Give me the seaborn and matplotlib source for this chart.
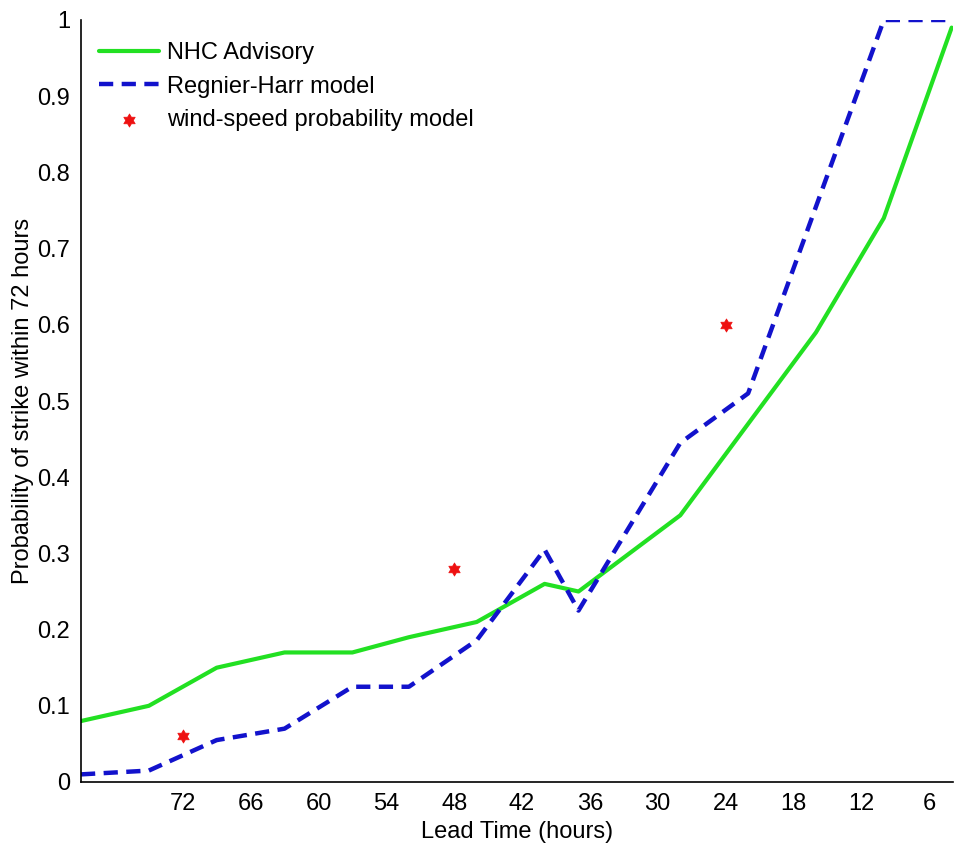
import matplotlib
matplotlib.use("Agg")
import matplotlib.pyplot as plt
import seaborn as sns
import pandas as pd
import numpy as np

# Data
lead_time = [81, 75, 69, 63, 57, 52, 46, 40, 37, 28, 22, 16, 10, 4]
nhc_advisory = [0.08, 0.10, 0.15, 0.17, 0.17, 0.19, 0.21, 0.26, 0.25, 0.35, 0.47, 0.59, 0.74, 0.99]
regnier_harr = [0.01, 0.015, 0.055, 0.07, 0.125, 0.125, 0.186, 0.305, 0.225, 0.445, 0.51, 0.755, 1.0, 1.0]
ws_lead = [72, 48, 24]
ws_prob = [0.06, 0.28, 0.60]
x_ticks = [72, 66, 60, 54, 48, 42, 36, 30, 24, 18, 12, 6]
y_ticks = [0, 0.1, 0.2, 0.3, 0.4, 0.5, 0.6, 0.7, 0.8, 0.9, 1.0]
y_tick_labels = ["0", "0.1", "0.2", "0.3", "0.4", "0.5", "0.6", "0.7", "0.8", "0.9", "1"]

sns.set_style("white")
plt.rcParams['font.family'] = ['Liberation Sans', 'DejaVu Sans']
plt.rcParams['text.color'] = 'black'
plt.rcParams['axes.labelcolor'] = 'black'
plt.rcParams['xtick.color'] = 'black'
plt.rcParams['ytick.color'] = 'black'

fig = plt.figure(figsize=(9.56, 8.56), dpi=100)
ax = fig.add_axes([81/956, 1 - 782/856, (953 - 81)/956, (782 - 20)/856])

df = pd.DataFrame({"lead": lead_time, "nhc": nhc_advisory, "rh": regnier_harr})
sns.lineplot(data=df, x="lead", y="nhc", ax=ax, color="#22e022", lw=3.0,
             label="NHC Advisory", sort=False)
sns.lineplot(data=df, x="lead", y="rh", ax=ax, color="#1212cc", lw=3.2,
             label="Regnier-Harr model", sort=False, dashes=False)
ax.lines[1].set_dashes([3.2, 1.9])

hexagram = matplotlib.path.Path.unit_regular_star(6, 0.58)
sns.scatterplot(x=ws_lead, y=ws_prob, ax=ax, marker=hexagram, s=90, color="#ee1111",
                edgecolor="#ee1111", linewidth=0.5, label="wind-speed probability model", zorder=5)

ax.set_xlim(81, 3.88)
ax.set_ylim(0, 1)
ax.set_xticks(x_ticks)
ax.set_xticklabels([str(t) for t in x_ticks])
ax.set_yticks(y_ticks)
ax.set_yticklabels(y_tick_labels)
ax.tick_params(direction="in", length=10, width=1, labelsize=17, pad=8, colors="black")
for s in ["top", "right"]:
    ax.spines[s].set_visible(False)
for s in ["left", "bottom"]:
    ax.spines[s].set_color("black")
    ax.spines[s].set_linewidth(1.2)

ax.set_xlabel("Lead Time (hours)", fontsize=17, labelpad=4, color="black")
ax.set_ylabel("Probability of strike within 72 hours", fontsize=17, labelpad=2, color="black")

leg = ax.legend(loc="upper left", frameon=False, fontsize=17, handlelength=2.55,
                handletextpad=0.3, labelspacing=0.5, borderaxespad=0.3,
                bbox_to_anchor=(0.002, 0.993))
for t in leg.get_texts():
    t.set_color("black")

fig.savefig("out.png", dpi=100)
